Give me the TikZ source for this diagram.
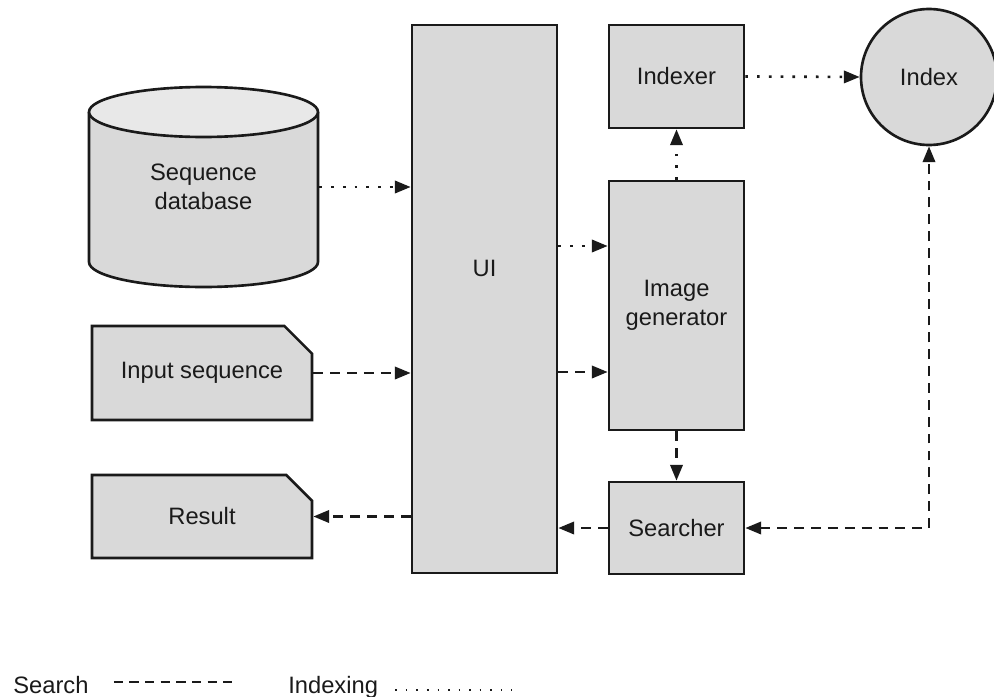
\documentclass[tikz,border=0pt]{standalone}
\usepackage{fontspec}
\setmainfont{Liberation Sans}
\usetikzlibrary{arrows.meta,shapes.misc}
\definecolor{boxgray}{HTML}{D9D9D9}
\definecolor{topgray}{HTML}{E8E8E8}
\definecolor{ink}{HTML}{1A1A1A}

\begin{document}
\begin{tikzpicture}
  [font=\fontsize{13.5}{16.4}\selectfont,color=ink,line width=1.5pt,
   >={Triangle[length=9pt,width=7pt]},
   box/.style={draw,fill=boxgray,align=center,inner sep=0pt},
   doc/.style={box,chamfered rectangle,chamfered rectangle corners=north east,
     chamfered rectangle sep=0.34cm,minimum width=4.4cm},
   srch/.style={dash pattern=on 5.6pt off 4pt},
   idx/.style={dash pattern=on 1.5pt off 5.2pt},
   key/.style={inner sep=0pt,anchor=base west}]
  \useasboundingbox (0,0) rectangle (19.88,-13.94);
  % database drum
  \fill[boxgray] (1.78,-2.24) -- (1.78,-5.24)
    arc[start angle=180,end angle=360,x radius=2.29,y radius=0.5] -- (6.36,-2.24) -- cycle;
  \draw (1.78,-2.24) -- (1.78,-5.24)
    arc[start angle=180,end angle=360,x radius=2.29,y radius=0.5] -- (6.36,-2.24);
  \draw[fill=topgray] (4.07,-2.24) ellipse[x radius=2.29,y radius=0.5];
  \node (db) at (4.07,-3.74) [minimum width=4.58cm,inner sep=0pt,align=center] {Sequence\\database};

  \node[doc,minimum height=1.88cm] (input) at (4.04,-7.46) {Input sequence};
  \node[doc,minimum height=1.66cm] (result) at (4.04,-10.33) {Result};
  \node[box,minimum width=2.9cm,minimum height=10.96cm,
    label={[yshift=0.62cm]center:UI}] (ui) at (9.69,-5.98) {};
  \node[box,minimum width=2.7cm,minimum height=2.06cm] (indexer) at (13.53,-1.53) {Indexer};
  \node[box,minimum width=2.7cm,minimum height=4.98cm] (gen) at (13.53,-6.11) {Image\\generator};
  \node[box,minimum width=2.7cm,minimum height=1.84cm] (searcher) at (13.53,-10.56) {Searcher};
  \node[box,circle,minimum size=2.72cm] (index) at (18.58,-1.54) {Index};

  \coordinate (g1) at ([yshift=1.19cm]gen.west);
  \coordinate (g2) at ([yshift=-1.33cm]gen.west);

  % indexing flow
  \foreach \from/\to in {db.east/db.east -| ui.west, g1 -| ui.east/g1,
      gen.north/indexer.south, indexer.east/index.west}
    \draw[idx,->] (\from) -- (\to);
  % search flow
  \foreach \from/\to in {input.east/input.east -| ui.west, g2 -| ui.east/g2,
      gen.south/searcher.north, searcher.west/searcher.west -| ui.east,
      result.east -| ui.west/result.east}
    \draw[srch,->] (\from) -- (\to);
  \draw[srch,<->] (searcher.east) -| (index.south);

  % key
  \node[key] (srchkey) at (0.24,-13.86) {Search};
  \node[key] (idxkey) at (5.74,-13.86) {Indexing};
  \draw[line width=1pt,dash pattern=on 5.2pt off 3.7pt]
    (srchkey.base east) ++(0.48,0.22) -- ++(2.36,0);
  \draw[line width=0.9pt,dash pattern=on 0.9pt off 5.1pt]
    (idxkey.base east) ++(0.32,0.06) -- ++(2.34,0);
\end{tikzpicture}
\end{document}
